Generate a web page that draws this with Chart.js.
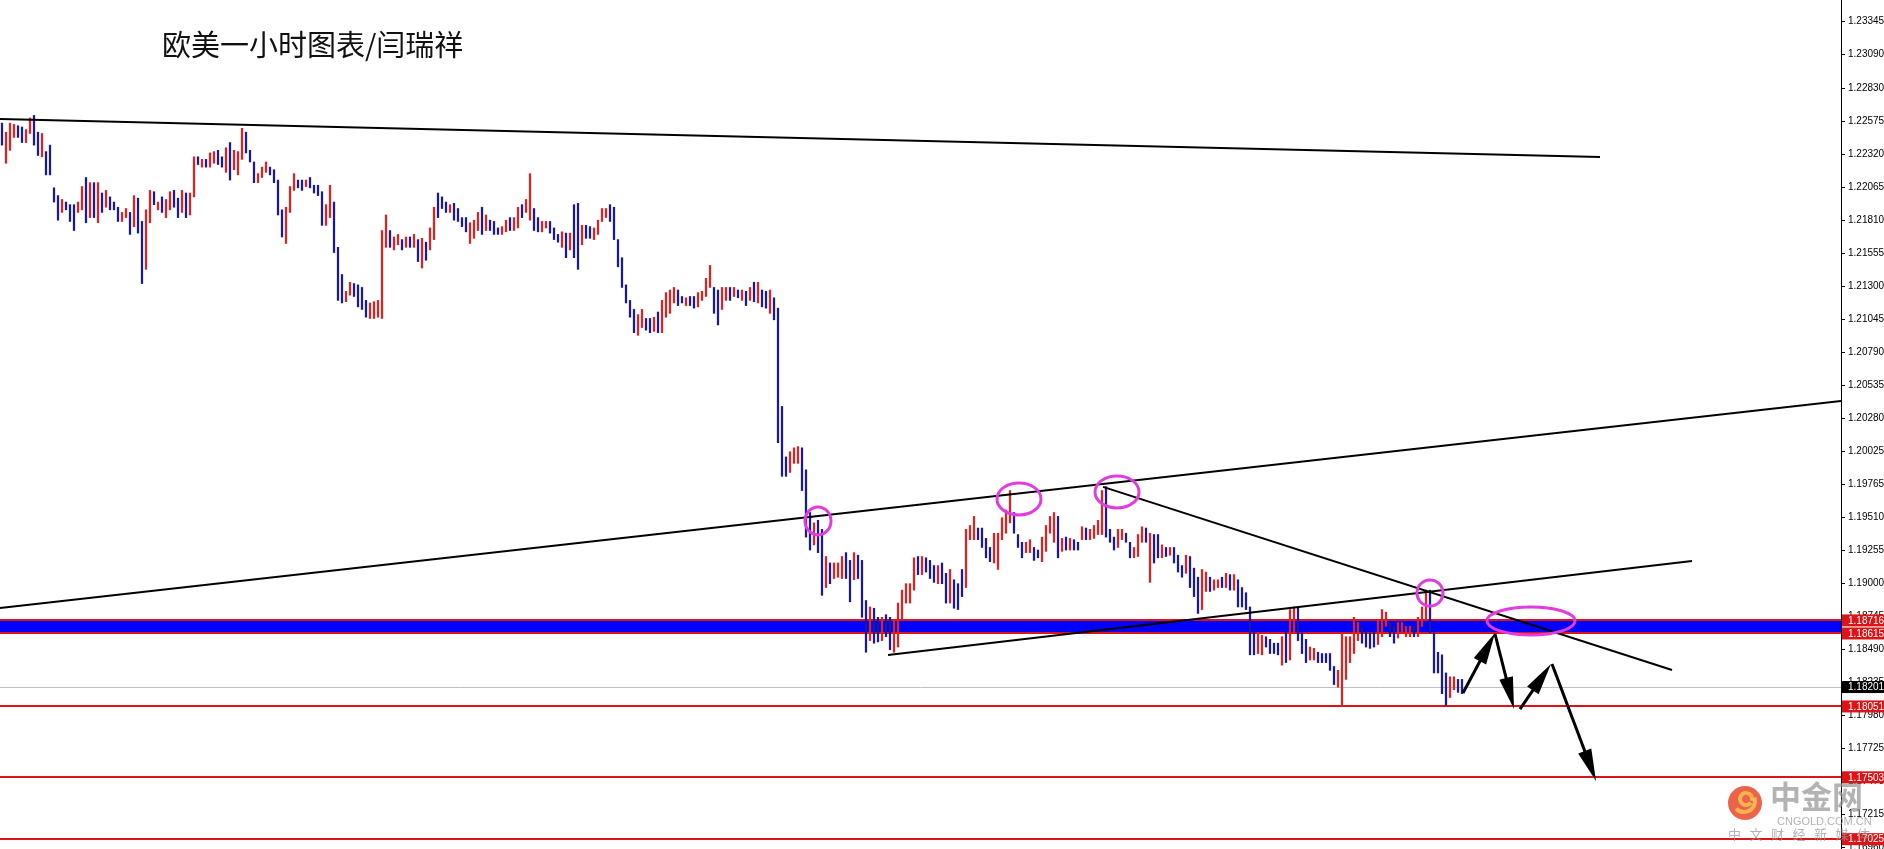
<!DOCTYPE html>
<html>
<head>
<meta charset="utf-8">
<script src="https://cdn.jsdelivr.net/npm/chart.js@4.4.1/dist/chart.umd.min.js"></script>
<style>
    html, body { margin: 0; padding: 0; background: #fff; }
    #wrap { width: 1884px; height: 849px; }
</style>
</head>
<body>
<div id="wrap"><canvas id="eurusd-chart" width="1884" height="849"></canvas></div>
<script>
// EUR/USD hourly bars, high / low per bar
const highs = [
    1.2256, 1.2249, 1.2256, 1.2255, 1.2254, 1.2253, 1.2251, 1.2260, 1.2262, 1.2249,
    1.2248, 1.2234, 1.2239, 1.2206, 1.2200, 1.2197, 1.2195, 1.2193, 1.2193, 1.2195,
    1.2207, 1.2214, 1.2210, 1.2210, 1.2210, 1.2202, 1.2204, 1.2199, 1.2195, 1.2191,
    1.2187, 1.2190, 1.2187, 1.2200, 1.2198, 1.2180, 1.2189, 1.2204, 1.2203, 1.2195,
    1.2199, 1.2197, 1.2203, 1.2204, 1.2198, 1.2204, 1.2202, 1.2202, 1.2230, 1.2230,
    1.2228, 1.2228, 1.2233, 1.2234, 1.2235, 1.2230, 1.2237, 1.2241, 1.2235, 1.2234,
    1.2252, 1.2249, 1.2235, 1.2226, 1.2217, 1.2222, 1.2226, 1.2222, 1.2220, 1.2212,
    1.2189, 1.2191, 1.2207, 1.2217, 1.2212, 1.2212, 1.2212, 1.2214, 1.2208, 1.2208,
    1.2203, 1.2193, 1.2208, 1.2195, 1.2160, 1.2139, 1.2126, 1.2133, 1.2132, 1.2131,
    1.2129, 1.2119, 1.2117, 1.2118, 1.2119, 1.2173, 1.2185, 1.2173, 1.2168, 1.2170,
    1.2166, 1.2168, 1.2168, 1.2170, 1.2166, 1.2167, 1.2164, 1.2175, 1.2191, 1.2202,
    1.2199, 1.2195, 1.2193, 1.2194, 1.2190, 1.2183, 1.2183, 1.2179, 1.2181, 1.2187,
    1.2191, 1.2185, 1.2181, 1.2180, 1.2175, 1.2176, 1.2181, 1.2183, 1.2183, 1.2191,
    1.2193, 1.2197, 1.2217, 1.2190, 1.2183, 1.2180, 1.2180, 1.2180, 1.2175, 1.2170,
    1.2172, 1.2171, 1.2171, 1.2193, 1.2194, 1.2177, 1.2177, 1.2176, 1.2175, 1.2181,
    1.2190, 1.2190, 1.2193, 1.2191, 1.2166, 1.2152, 1.2131, 1.2119, 1.2112, 1.2108,
    1.2112, 1.2105, 1.2105, 1.2106, 1.2110, 1.2119, 1.2125, 1.2127, 1.2129, 1.2127,
    1.2122, 1.2121, 1.2122, 1.2122, 1.2125, 1.2126, 1.2136, 1.2146, 1.2129, 1.2127,
    1.2129, 1.2129, 1.2129, 1.2129, 1.2127, 1.2127, 1.2126, 1.2129, 1.2133, 1.2133,
    1.2127, 1.2126, 1.2127, 1.2121, 1.2113, 1.2037, 1.1998, 1.2002, 1.2005, 1.2006,
    1.2005, 1.1988, 1.1955, 1.1947, 1.1949, 1.1942, 1.1921, 1.1916, 1.1916, 1.1916,
    1.1921, 1.1924, 1.1918, 1.1924, 1.1922, 1.1918, 1.1887, 1.1882, 1.1881, 1.1874,
    1.1874, 1.1876, 1.1874, 1.1872, 1.1885, 1.1895, 1.1900, 1.1900, 1.1920, 1.1921,
    1.1921, 1.1920, 1.1918, 1.1914, 1.1914, 1.1916, 1.1908, 1.1911, 1.1903, 1.1900,
    1.1911, 1.1942, 1.1945, 1.1952, 1.1943, 1.1943, 1.1935, 1.1928, 1.1939, 1.1939,
    1.1951, 1.1957, 1.1972, 1.1955, 1.1938, 1.1932, 1.1932, 1.1934, 1.1928, 1.1926,
    1.1936, 1.1945, 1.1952, 1.1955, 1.1952, 1.1935, 1.1936, 1.1935, 1.1934, 1.1932,
    1.1944, 1.1943, 1.1942, 1.1945, 1.1949, 1.1972, 1.1975, 1.1942, 1.1936, 1.1942,
    1.1942, 1.1939, 1.1932, 1.1928, 1.1938, 1.1944, 1.1943, 1.1939, 1.1938, 1.1938,
    1.1930, 1.1928, 1.1928, 1.1928, 1.1922, 1.1914, 1.1922, 1.1921, 1.1912, 1.1905,
    1.1911, 1.1909, 1.1905, 1.1903, 1.1903, 1.1905, 1.1908, 1.1907, 1.1907, 1.1903,
    1.1897, 1.1893, 1.1882, 1.1863, 1.1862, 1.1860, 1.1859, 1.1857, 1.1854, 1.1854,
    1.1859, 1.1863, 1.1880, 1.1882, 1.1881, 1.1862, 1.1857, 1.1851, 1.1850, 1.1847,
    1.1846, 1.1846, 1.1846, 1.1836, 1.1833, 1.1862, 1.1859, 1.1859, 1.1874, 1.1870,
    1.1866, 1.1863, 1.1862, 1.1863, 1.1872, 1.1880, 1.1878, 1.1870, 1.1867, 1.1870,
    1.1870, 1.1867, 1.1867, 1.1867, 1.1874, 1.1882, 1.1895, 1.1895, 1.1862, 1.1847,
    1.1845, 1.1831, 1.1828, 1.1828, 1.1826, 1.1826
];
const lows = [
    1.2239, 1.2225, 1.2235, 1.2245, 1.2245, 1.2241, 1.2241, 1.2248, 1.2239, 1.2231,
    1.2230, 1.2216, 1.2216, 1.2195, 1.2181, 1.2187, 1.2189, 1.2180, 1.2173, 1.2187,
    1.2189, 1.2179, 1.2183, 1.2183, 1.2179, 1.2187, 1.2191, 1.2189, 1.2189, 1.2180,
    1.2180, 1.2183, 1.2170, 1.2176, 1.2171, 1.2132, 1.2143, 1.2179, 1.2193, 1.2189,
    1.2187, 1.2183, 1.2189, 1.2191, 1.2183, 1.2187, 1.2183, 1.2185, 1.2199, 1.2224,
    1.2222, 1.2222, 1.2222, 1.2225, 1.2224, 1.2222, 1.2218, 1.2212, 1.2220, 1.2216,
    1.2228, 1.2233, 1.2226, 1.2210, 1.2210, 1.2214, 1.2218, 1.2216, 1.2210, 1.2185,
    1.2168, 1.2163, 1.2187, 1.2204, 1.2206, 1.2204, 1.2207, 1.2206, 1.2202, 1.2200,
    1.2177, 1.2177, 1.2183, 1.2156, 1.2119, 1.2117, 1.2118, 1.2123, 1.2122, 1.2114,
    1.2112, 1.2106, 1.2105, 1.2105, 1.2106, 1.2105, 1.2160, 1.2160, 1.2158, 1.2162,
    1.2158, 1.2160, 1.2160, 1.2160, 1.2149, 1.2144, 1.2150, 1.2158, 1.2166, 1.2183,
    1.2190, 1.2187, 1.2187, 1.2181, 1.2180, 1.2176, 1.2172, 1.2163, 1.2167, 1.2173,
    1.2170, 1.2173, 1.2173, 1.2170, 1.2170, 1.2170, 1.2172, 1.2173, 1.2173, 1.2175,
    1.2183, 1.2187, 1.2181, 1.2173, 1.2172, 1.2172, 1.2175, 1.2171, 1.2166, 1.2164,
    1.2160, 1.2152, 1.2158, 1.2152, 1.2143, 1.2162, 1.2167, 1.2167, 1.2166, 1.2170,
    1.2180, 1.2183, 1.2180, 1.2166, 1.2145, 1.2129, 1.2117, 1.2106, 1.2094, 1.2092,
    1.2098, 1.2096, 1.2094, 1.2095, 1.2094, 1.2094, 1.2106, 1.2109, 1.2117, 1.2115,
    1.2117, 1.2115, 1.2115, 1.2113, 1.2114, 1.2119, 1.2122, 1.2129, 1.2109, 1.2100,
    1.2112, 1.2119, 1.2119, 1.2122, 1.2121, 1.2119, 1.2115, 1.2119, 1.2118, 1.2117,
    1.2114, 1.2113, 1.2109, 1.2104, 1.2009, 1.1983, 1.1983, 1.1986, 1.1993, 1.1993,
    1.1972, 1.1936, 1.1926, 1.1930, 1.1924, 1.1891, 1.1897, 1.1900, 1.1904, 1.1905,
    1.1904, 1.1904, 1.1886, 1.1903, 1.1904, 1.1874, 1.1847, 1.1856, 1.1854, 1.1855,
    1.1856, 1.1859, 1.1849, 1.1847, 1.1851, 1.1872, 1.1885, 1.1885, 1.1895, 1.1907,
    1.1907, 1.1909, 1.1904, 1.1901, 1.1900, 1.1900, 1.1885, 1.1885, 1.1881, 1.1880,
    1.1890, 1.1897, 1.1934, 1.1934, 1.1934, 1.1928, 1.1920, 1.1917, 1.1916, 1.1911,
    1.1934, 1.1939, 1.1947, 1.1939, 1.1928, 1.1920, 1.1924, 1.1924, 1.1918, 1.1920,
    1.1917, 1.1925, 1.1939, 1.1932, 1.1920, 1.1925, 1.1926, 1.1926, 1.1926, 1.1926,
    1.1934, 1.1934, 1.1934, 1.1935, 1.1938, 1.1938, 1.1936, 1.1932, 1.1926, 1.1928,
    1.1934, 1.1932, 1.1920, 1.1920, 1.1921, 1.1932, 1.1932, 1.1901, 1.1916, 1.1920,
    1.1920, 1.1921, 1.1922, 1.1916, 1.1909, 1.1905, 1.1908, 1.1897, 1.1890, 1.1877,
    1.1880, 1.1894, 1.1894, 1.1895, 1.1897, 1.1897, 1.1897, 1.1895, 1.1895, 1.1882,
    1.1882, 1.1880, 1.1845, 1.1845, 1.1846, 1.1845, 1.1851, 1.1846, 1.1846, 1.1845,
    1.1837, 1.1839, 1.1841, 1.1862, 1.1856, 1.1846, 1.1839, 1.1841, 1.1841, 1.1839,
    1.1839, 1.1839, 1.1833, 1.1822, 1.1820, 1.1805, 1.1826, 1.1839, 1.1846, 1.1856,
    1.1854, 1.1851, 1.1850, 1.1851, 1.1853, 1.1859, 1.1867, 1.1859, 1.1854, 1.1858,
    1.1862, 1.1859, 1.1859, 1.1859, 1.1859, 1.1867, 1.1872, 1.1862, 1.1831, 1.1831,
    1.1815, 1.1806, 1.1812, 1.1818, 1.1816, 1.1815
];
// bar direction, r = up bar (red), b = down bar (blue)
const barDirs = (
    'brrrbbrrbb' + 'rbbbbrbbbr' + 'rbrbrbrbbb' + 'rrbrbbrrbr' + 'brrbbrbrrb' +
    'rbrrbbrbrr' + 'rbbbrrrbbb' + 'brrrbbrbbb' + 'brrbbbrrbb' + 'bbrrrrrbrr' +
    'brbrbrbrrb' + 'bbrbbbbrrr' + 'brbbbrrbrr' + 'brrbbrrbbb' + 'rbrbbrbbrr' +
    'rrbbbbbbbr' + 'rbbrbrrrrb' + 'brbbrrrrbb' + 'rrbrbrbrbr' + 'bbrbbbbrrr' +
    'bbbrbbrbrr' + 'rbbrbbbrbb' + 'rbbrrrrrrb' + 'rbbbrbbrbb' + 'brrrbbbbrr' +
    'rrrbbbrrbb' + 'rrrrbrbrbb' + 'rbrrrrbbbr' + 'rbbrrrbrbb' + 'rbrbbbrbbb' +
    'rrbrrbrbrb' + 'bbbbrrbbbb' + 'rbrrbbbrrb' + 'bbbbrrrrrr' + 'bbbbrrrbbr' +
    'rrrbrrrbbb' + 'bbrrbb'
).split('');

// right price axis
const axisTicks = [
    1.23345, 1.23090, 1.22830, 1.22575, 1.22320, 1.22065, 1.21810, 1.21555, 1.21300,
    1.21045, 1.20790, 1.20535, 1.20280, 1.20025, 1.19765, 1.19510, 1.19255, 1.19000,
    1.18745, 1.18490, 1.18235, 1.17980, 1.17725, 1.17470, 1.17215, 1.16960
];
const priceMax = 1.23512;
const priceMin = 1.16949;
const barSlots = 460; // visible bar slots across the window

// drawn objects
const bandTop = 1.18716;
const bandBottom = 1.18615;
const supportLevels = [1.18051, 1.17503, 1.17025];
const lastPrice = 1.18201;

// trend lines as [barIndex, price] pairs
const trendLines = [
    [[-0.5, 1.22592], [399.5, 1.22298]],
    [[-0.5, 1.18812], [459.75, 1.20412]],
    [[275.25, 1.19748], [417.5, 1.18333]],
    [[221.5, 1.18449], [422.5, 1.19175]]
];
const arrowPaths = [
    [[365.25, 1.18155], [373.25, 1.18619]],
    [[373.25, 1.18611], [378, 1.18031]],
    [[379.5, 1.18031], [387.25, 1.18379]],
    [[387.5, 1.18379], [398.5, 1.17475]]
];
// circled touch points [barIndex, price]
const touchPoints = [
    [204, 1.19485],
    [254.25, 1.19655],
    [278.75, 1.19709],
    [357, 1.18928],
    [382.25, 1.18712]
];
const touchRadii = [[13, 14], [22, 16], [22, 16], [13, 13], [44, 14]];

const upColor = '#d92424';
const downColor = '#1a1a96';
const levelRed = '#dc1418';

function line(ctx, x1, y1, x2, y2) {
    ctx.beginPath();
    ctx.moveTo(x1, y1);
    ctx.lineTo(x2, y2);
    ctx.stroke();
}

function drawArrow(ctx, x1, y1, x2, y2) {
    const ang = Math.atan2(y2 - y1, x2 - x1);
    const len = 32, half = 7;
    const cx = Math.cos(ang), sy = Math.sin(ang);
    line(ctx, x1, y1, x2 - cx * len * 0.7, y2 - sy * len * 0.7);
    ctx.beginPath();
    ctx.moveTo(x2, y2);
    ctx.lineTo(x2 - len * cx + half * sy, y2 - len * sy - half * cx);
    ctx.lineTo(x2 - len * cx - half * sy, y2 - len * sy + half * cx);
    ctx.closePath();
    ctx.fill();
}

const drawings = {
    id: 'drawings',
    beforeDatasetsDraw(chart) {
        const { ctx, chartArea: a, scales: { y } } = chart;
        ctx.save();
        // resistance band
        const t = y.getPixelForValue(bandTop);
        const b = y.getPixelForValue(bandBottom);
        ctx.fillStyle = '#0000ff';
        ctx.fillRect(a.left, t, a.width, b - t);
        ctx.strokeStyle = levelRed;
        ctx.lineWidth = 2;
        [bandTop, bandBottom].concat(supportLevels).forEach(v => {
            const py = Math.round(y.getPixelForValue(v));
            line(ctx, a.left, py, a.right, py);
        });
        // last price
        ctx.strokeStyle = '#c0c0c0';
        ctx.lineWidth = 1;
        const lp = Math.round(y.getPixelForValue(lastPrice)) + 0.5;
        line(ctx, a.left, lp, a.right, lp);
        ctx.restore();
    },
    afterDatasetsDraw(chart) {
        const { ctx, chartArea: a, scales: { x, y } } = chart;
        const px = p => [x.getPixelForValue(p[0]), y.getPixelForValue(p[1])];
        ctx.save();
        ctx.beginPath();
        ctx.rect(a.left, a.top, a.width, a.height);
        ctx.clip();
        ctx.strokeStyle = '#000';
        ctx.fillStyle = '#000';
        ctx.lineWidth = 2;
        trendLines.forEach(([p1, p2]) => {
            const [x1, y1] = px(p1), [x2, y2] = px(p2);
            line(ctx, x1, y1, x2, y2);
        });
        ctx.lineWidth = 3;
        arrowPaths.forEach(([p1, p2]) => {
            const [x1, y1] = px(p1), [x2, y2] = px(p2);
            drawArrow(ctx, x1, y1, x2, y2);
        });
        ctx.strokeStyle = '#e03ce0';
        ctx.lineWidth = 3;
        touchPoints.forEach((p, i) => {
            const [cx, cy] = px(p);
            ctx.beginPath();
            ctx.ellipse(cx, cy, touchRadii[i][0], touchRadii[i][1], 0, 0, Math.PI * 2);
            ctx.stroke();
        });
        ctx.restore();
    },
    afterDraw(chart) {
        const { ctx, chartArea: a, scales: { y } } = chart;
        ctx.save();
        // price tags on the axis
        ctx.font = '10px "Liberation Sans", Arial, sans-serif';
        ctx.textBaseline = 'middle';
        ctx.textAlign = 'left';
        const tags = [[bandTop, levelRed], [bandBottom, levelRed], [lastPrice, '#000']]
            .concat(supportLevels.map(v => [v, levelRed]));
        tags.forEach(([v, bg]) => {
            const py = y.getPixelForValue(v);
            ctx.fillStyle = bg;
            ctx.fillRect(a.right + 1, py - 6, 43, 12);
            ctx.fillStyle = '#fff';
            ctx.fillText(v.toFixed(5), a.right + 7, py + 0.5);
        });

        // title
        ctx.fillStyle = '#111';
        ctx.font = '29px "Noto Sans CJK SC", sans-serif';
        ctx.fillText('欧美一小时图表/闫瑞祥', 162, 45);

        // watermark
        ctx.globalAlpha = 0.85;
        ctx.fillStyle = '#e8482a';
        ctx.beginPath();
        ctx.arc(1745, 803, 17, 0, Math.PI * 2);
        ctx.fill();
        ctx.strokeStyle = '#f8c24c';
        ctx.lineWidth = 4;
        ctx.beginPath();
        ctx.arc(1746, 799, 6, Math.PI * 0.2, Math.PI * 2.1);
        ctx.stroke();
        ctx.beginPath();
        ctx.arc(1744, 801, 11, -Math.PI * 0.1, Math.PI * 0.75);
        ctx.stroke();
        ctx.fillStyle = 'rgba(150,150,150,0.85)';
        ctx.font = 'bold 31px "Noto Sans CJK SC", sans-serif';
        ctx.fillText('中金网', 1770, 796);
        ctx.font = '11px "Liberation Sans", Arial, sans-serif';
        ctx.fillText('CNGOLD.COM.CN', 1777, 822);
        ctx.font = '13px "Noto Sans CJK SC", sans-serif';
        '中文财经新媒体'.split('').forEach((ch, i) => ctx.fillText(ch, 1728 + i * 21.5, 834));
        ctx.restore();
    }
};

const bars = highs.map((h, i) => ({ x: i, y: [lows[i], h] }));

new Chart(document.getElementById('eurusd-chart'), {
    type: 'bar',
    data: {
        datasets: [{
            label: 'EURUSD H1',
            data: bars,
            backgroundColor: barDirs.map(d => d === 'r' ? upColor : downColor),
            borderWidth: 0,
            borderSkipped: false,
            barThickness: 1.6,
            grouped: false
        }]
    },
    options: {
        responsive: false,
        animation: false,
        events: [],
        layout: { padding: 0 },
        plugins: {
            legend: { display: false },
            tooltip: { enabled: false }
        },
        scales: {
            x: {
                type: 'linear',
                display: false,
                offset: false,
                min: -0.5,
                max: barSlots - 0.25
            },
            y: {
                position: 'right',
                min: priceMin,
                max: priceMax,
                afterBuildTicks: scale => {
                    scale.ticks = axisTicks.map(v => ({ value: v }));
                },
                afterFit: scale => {
                    scale.width = 43;
                    scale.paddingTop = 0;
                    scale.paddingBottom = 0;
                },
                ticks: {
                    autoSkip: false,
                    padding: 3,
                    color: '#000',
                    font: { family: '"Liberation Sans", Arial, sans-serif', size: 10 },
                    callback: v => v.toFixed(5)
                },
                grid: {
                    drawOnChartArea: false,
                    drawTicks: true,
                    tickLength: 4,
                    tickColor: '#000'
                },
                border: { display: true, color: '#000', width: 1 }
            }
        }
    },
    plugins: [drawings]
});
</script>
</body>
</html>
